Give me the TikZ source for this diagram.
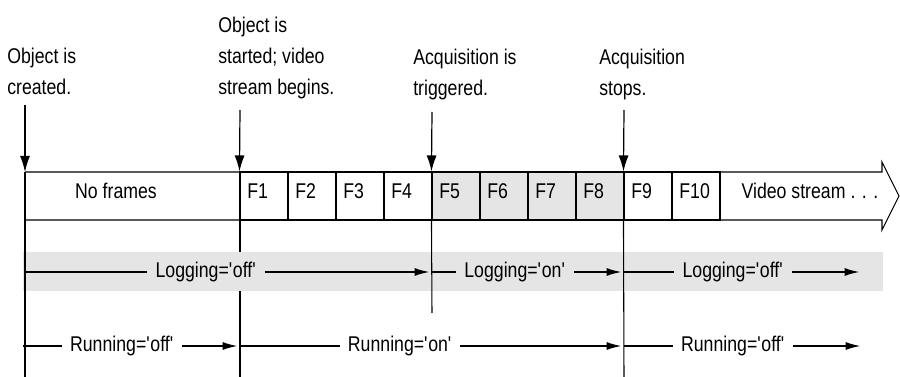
\documentclass[tikz,border=0pt]{standalone}
\usepackage{fontspec}
\setmainfont{Liberation Sans}[FakeStretch=0.83]
\usetikzlibrary{arrows.meta}
\definecolor{bandgray}{RGB}{229,229,229}

\begin{document}
\begin{tikzpicture}[x=0.75pt,y=0.75pt,yscale=-1,xscale=1,
	every node/.style={font=\fontsize{16}{23}\selectfont, inner sep=0pt},
	event/.style={anchor=north west, align=left},
	cell/.style={draw, line width=0.8pt, minimum width=36pt, minimum height=36pt, inner xsep=5.5pt, text width=25pt, align=left, text height=8pt, text depth=4pt},
	celltext/.style={text height=8pt, text depth=4pt},
	state/.style={inner xsep=6pt},
	plain/.style={line width=0.8pt},
	evarrow/.style={-{Latex[length=12pt,width=7.5pt]}, line width=0.9pt},
	runarrow/.style={-{Latex[length=11pt,width=6pt]}, line width=1pt, shorten >=2pt}]
	\useasboundingbox (0,0) rectangle (900,377);
	
	% event points
	\coordinate (a0) at (25,105);
	\coordinate (a1) at (240,110);
	\coordinate (a2) at (432,112);
	\coordinate (a3) at (624,110);
	\coordinate (t0) at (25,172);
	\coordinate (b0) at (25,377);
	\coordinate (b1) at (240,377);
	\coordinate (b2) at (432,313);
	\coordinate (b3) at (624,377);
	% row ends
	\coordinate (l0) at (25,272);
	\coordinate (l2) at (432,272);
	\coordinate (l3) at (624,272);
	\coordinate (lend) at (862,272);
	\coordinate (r0) at (23,346);
	\coordinate (r1) at (240,346);
	\coordinate (r3) at (624,346);
	\coordinate (rend) at (863,346);
	
	%Straight Lines (under the band)
	\draw [plain] (240,220) -- (b1) ;
	
	%Shape: Rectangle (logging band)
	\fill [bandgray] (23,252) rectangle (883,291) ;
	
	% Frames
	\node [cell] (f1) at (264,196) {F1};
	\node [cell] (f2) at (312,196) {F2};
	\node [cell] (f3) at (360,196) {F3};
	\node [cell] (f4) at (408,196) {F4};
	\node [cell, fill=bandgray] (f5) at (456,196) {F5};
	\node [cell, fill=bandgray] (f6) at (504,196) {F6};
	\node [cell, fill=bandgray] (f7) at (552,196) {F7};
	\node [cell, fill=bandgray] (f8) at (600,196) {F8};
	\node [cell] (f9) at (648,196) {F9};
	\node [cell] (f10) at (696,196) {F10};
	% Text Node
	\node [celltext] (noframes) at (116,196) {No frames};
	% Text Node
	\node [celltext] (stream) at (810,196) {Video stream . . .};
	
	%Shape: Arrow (video stream)
	\draw [plain] (t0) -- (882,172) -- (882,162) -- (899,196) -- (882,230) -- (882,220) -- (25,220) ;
	
	%Straight Lines
	\draw [plain] (t0) -- (b0) ;
	\draw [plain] (f5.south west) -- (b2) ;
	\draw [plain] (f9.south west) -- (b3) ;
	
	% Text Node
	\node [event] (created) at (7,48) {Object is\\created.};
	% Text Node
	\node [event] (started) at (218,17) {Object is\\started; video\\stream begins.};
	% Text Node
	\node [event] (triggered) at (413,49) {Acquisition is\\triggered.};
	% Text Node
	\node [event] (stops) at (599,49) {Acquisition\\stops.};
	
	%Straight Lines (events)
	\draw [evarrow] (a0) -- (t0) ;
	\draw [evarrow] (a1) -- (f1.north west) ;
	\draw [evarrow] (a2) -- (f5.north west) ;
	\draw [evarrow] (a3) -- (f9.north west) ;
	
	% Text Node
	\node [state] (logoff) at (206,272) {Logging=\textquotesingle off\textquotesingle};
	% Text Node
	\node [state] (logon) at (515,272) {Logging=\textquotesingle on\textquotesingle};
	% Text Node
	\node [state] (logoffb) at (733,272) {Logging=\textquotesingle off\textquotesingle};
	% Text Node
	\node [state] (runoff) at (122,346) {Running=\textquotesingle off\textquotesingle};
	% Text Node
	\node [state] (runon) at (400,346) {Running=\textquotesingle on\textquotesingle};
	% Text Node
	\node [state] (runoffb) at (733,346) {Running=\textquotesingle off\textquotesingle};
	
	%Straight Lines (Logging)
	\draw [plain] (l0) -- (logoff.west) ;
	\draw [runarrow] (logoff.east) -- (l2) ;
	\draw [plain] (l2) -- (logon.west) ;
	\draw [runarrow] (logon.east) -- (l3) ;
	\draw [plain] (l3) -- (logoffb.west) ;
	\draw [runarrow] (logoffb.east) -- (lend) ;
	
	%Straight Lines (Running)
	\draw [plain] (r0) -- (runoff.west) ;
	\draw [runarrow] (runoff.east) -- (r1) ;
	\draw [plain] (r1) -- (runon.west) ;
	\draw [runarrow] (runon.east) -- (r3) ;
	\draw [plain] (r3) -- (runoffb.west) ;
	\draw [runarrow] (runoffb.east) -- (rend) ;
	
\end{tikzpicture}
\end{document}
